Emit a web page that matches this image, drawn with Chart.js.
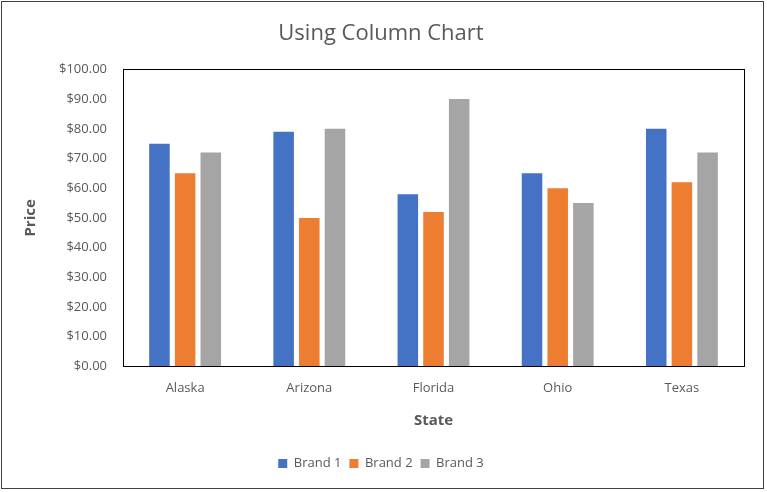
<!DOCTYPE html>
<html>
<head>
<meta charset="utf-8">
<script src="https://cdn.jsdelivr.net/npm/chart.js@4"></script>
<style>
  html, body { margin: 0; padding: 0; background: #fff; }
  .frame { position: absolute; left: 1px; top: 1px; width: 763px; height: 488px; border: 1px solid #404040; box-sizing: border-box; pointer-events: none; }
  .wrap { position: absolute; left: 0; top: 0; width: 767px; height: 492px; }
</style>
</head>
<body>
<div class="wrap"><canvas id="chart" width="767" height="492"></canvas></div>
<div class="frame"></div>
<script>
const states = ['Alaska', 'Arizona', 'Florida', 'Ohio', 'Texas'];
const brand1 = [75, 79, 58, 65, 80];
const brand2 = [65, 50, 52, 60, 62];
const brand3 = [72, 80, 90, 55, 72];

// black box around the plot area, like Excel
const plotBorder = {
    id: 'plotBorder',
    afterDraw(chart) {
        const a = chart.chartArea, ctx = chart.ctx;
        ctx.save();
        ctx.strokeStyle = '#000';
        ctx.lineWidth = 1;
        ctx.strokeRect(Math.round(a.left) + 0.5, Math.round(a.top) + 0.5, Math.round(a.right - a.left), Math.round(a.bottom - a.top));
        ctx.restore();
    }
};

Chart.defaults.font.family = '"Open Sans", "Liberation Sans", sans-serif';
Chart.defaults.color = '#595959';

new Chart(document.getElementById('chart'), {
    type: 'bar',
    data: {
        labels: states,
        datasets: [
            { label: 'Brand 1', data: brand1, backgroundColor: '#4472C4' },
            { label: 'Brand 2', data: brand2, backgroundColor: '#ED7D31' },
            { label: 'Brand 3', data: brand3, backgroundColor: '#A5A5A5' }
        ]
    },
    options: {
        responsive: false,
        animation: false,
        devicePixelRatio: 1,
        layout: { padding: { left: 18, right: 23, top: 19, bottom: 12 } },
        datasets: { bar: { categoryPercentage: 0.62, barPercentage: 0.8 } },
        plugins: {
            title: {
                display: true, text: 'Using Column Chart', color: '#595959',
                font: { size: 22, weight: 'normal' }, padding: { top: 2, bottom: 22 }
            },
            legend: {
                position: 'bottom',
                labels: { boxWidth: 9, boxHeight: 9, font: { size: 13 }, color: '#595959', padding: 8 }
            },
            tooltip: { enabled: false }
        },
        scales: {
            x: {
                grid: { display: false },
                border: { display: false },
                ticks: { font: { size: 13 }, color: '#595959', padding: 6 },
                title: { display: true, text: 'State', font: { size: 15, weight: 'bold' }, color: '#595959', padding: { top: 10, bottom: 19 } }
            },
            y: {
                min: 0, max: 100,
                grid: { display: false },
                border: { display: false },
                ticks: {
                    stepSize: 10, font: { size: 13 }, color: '#595959', padding: 8,
                    callback: v => '$' + v.toFixed(2)
                },
                title: { display: true, text: 'Price', font: { size: 15, weight: 'bold' }, color: '#595959', padding: { bottom: 11 } }
            }
        }
    },
    plugins: [plotBorder]
});
</script>
</body>
</html>
